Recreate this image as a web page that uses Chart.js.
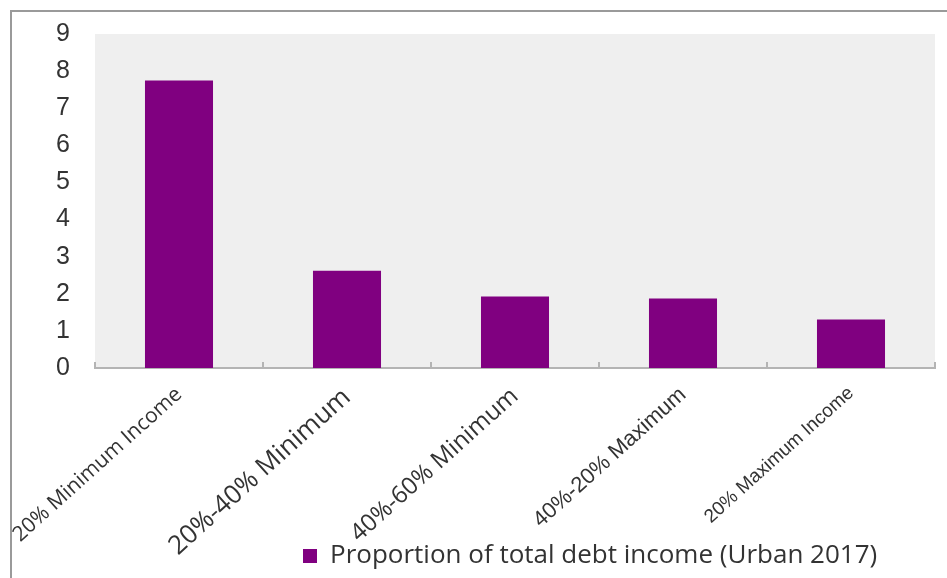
<!DOCTYPE html>
<html>
<head>
<meta charset="utf-8">
<script src="https://cdn.jsdelivr.net/npm/chart.js@4.4.0/dist/chart.umd.min.js"></script>
<style>
  html, body { margin: 0; padding: 0; background: #fff; }
  #wrap { position: relative; width: 947px; height: 578px; }
</style>
</head>
<body>
<div id="wrap"><canvas id="debt-chart"></canvas></div>
<script>
// Datos: proporción de la deuda total sobre el ingreso por quintil (urbano 2017)
const categories = [
  '20% Minimum Income',
  '20%-40% Minimum',
  '40%-60% Minimum',
  '40%-20% Maximum',
  '20% Maximum Income'
];
const debtShare = [7.75, 2.62, 1.93, 1.87, 1.31];
const seriesLabel = 'Proportion of total debt income (Urban 2017)';
const yTicks = [0, 1, 2, 3, 4, 5, 6, 7, 8, 9];

// Cada etiqueta del eje x tiene su propio tamaño de letra
const labelSizes = [21, 26, 24, 22, 19];
const labelFamilies = ['Open Sans', 'Open Sans', 'Open Sans', 'Liberation Sans', 'Liberation Sans'];

const legendFontSize = 26;
const legendPadding = 8;

// Fondo gris del área de trazado y marco exterior
const plotBackground = {
  id: 'plotBackground',
  beforeDraw(chart) {
    const { ctx, chartArea: a } = chart;
    ctx.save();
    ctx.fillStyle = '#efefef';
    ctx.fillRect(a.left, a.top, a.right - a.left, a.bottom - a.top);
    ctx.strokeStyle = '#9a9a9a';
    ctx.lineWidth = 2;
    ctx.beginPath();
    ctx.moveTo(11, chart.height);
    ctx.lineTo(11, 11);
    ctx.lineTo(chart.width, 11);
    ctx.stroke();
    ctx.restore();
  }
};

// Coloca la leyenda abajo, a la derecha, sobre la zona de las etiquetas
const legendPlace = {
  id: 'legendPlace',
  afterLayout(chart) {
    const lg = chart.legend;
    const w = lg.width;
    const h = legendFontSize + legendPadding * 2;
    lg.left = 295;
    lg.right = lg.left + w;
    lg.bottom = chart.height - 1;
    lg.top = lg.bottom - h;
    lg.height = h;
  }
};

document.addEventListener('DOMContentLoaded', function() {
  const ctx = document.getElementById('debt-chart');
  new Chart(ctx, {
    type: 'bar',
    data: {
      labels: categories,
      datasets: [{
        label: seriesLabel,
        data: debtShare,
        backgroundColor: '#800080',
        borderWidth: 0,
        barPercentage: 0.405,
        categoryPercentage: 1
      }]
    },
    options: {
      responsive: true,
      maintainAspectRatio: false,
      animation: false,
      layout: { padding: { top: 34, left: 10, right: 12, bottom: 0 } },
      plugins: {
        tooltip: { enabled: false },
        legend: {
          position: 'chartArea',
          align: 'start',
          labels: {
            boxWidth: 14,
            boxHeight: 14,
            padding: legendPadding,
            color: '#333',
            font: { family: 'Open Sans', size: legendFontSize }
          }
        }
      },
      scales: {
        x: {
          grid: {
            display: true,
            drawOnChartArea: false,
            drawTicks: true,
            tickLength: -6,
            offset: true,
            color: '#b4b4b4',
            lineWidth: 2
          },
          border: { display: true, color: '#b4b4b4', width: 2 },
          ticks: {
            autoSkip: false,
            minRotation: 42,
            maxRotation: 42,
            padding: 20,
            color: '#333',
            font: function(c) {
              return { family: labelFamilies[c.index], size: labelSizes[c.index] };
            }
          },
          afterFit: function(scale) {
            scale.height = 210;
            scale.paddingLeft = 0;
            scale.paddingRight = 0;
          }
        },
        y: {
          min: yTicks[0],
          max: yTicks[yTicks.length - 1],
          grid: { display: false, drawTicks: false },
          border: { display: false },
          afterBuildTicks: function(scale) {
            scale.ticks = yTicks.map(v => ({ value: v }));
          },
          ticks: {
            padding: 25,
            color: '#333',
            font: { family: 'Liberation Sans', size: 25 }
          },
          afterFit: function(scale) {
            scale.width = 85;
            scale.paddingTop = 0;
            scale.paddingBottom = 0;
          }
        }
      }
    },
    plugins: [plotBackground, legendPlace]
  });
});
</script>
</body>
</html>
